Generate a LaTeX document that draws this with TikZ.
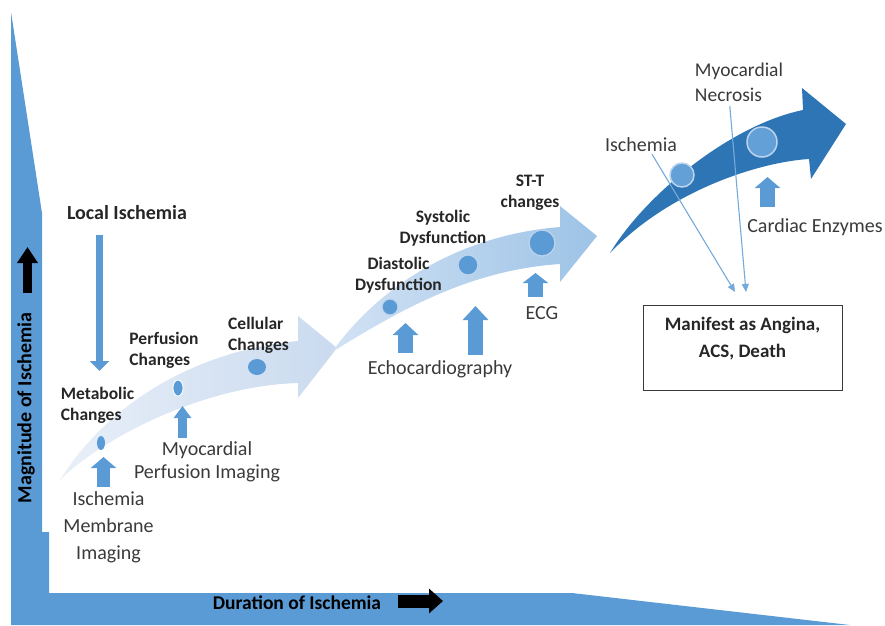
\documentclass[tikz,border=0pt]{standalone}
\usepackage{fontspec}
\setmainfont{Carlito}
\usetikzlibrary{arrows.meta,shapes.geometric,calc}

\definecolor{axisblue}{HTML}{5B9BD5}
\definecolor{dotblue}{HTML}{5B9BD5}
\definecolor{darkarrow}{HTML}{2E75B6}
\definecolor{midL}{HTML}{D2E2F4}
\definecolor{midR}{HTML}{9DC3E6}
\definecolor{paleL}{HTML}{E8EFF8}
\definecolor{paleR}{HTML}{CADAEF}
\definecolor{ringlight}{HTML}{BCD4EE}
\definecolor{labeltxt}{HTML}{262626}
\definecolor{desctxt}{HTML}{3A3A3A}

\tikzset{
  stagelbl/.style={font=\bfseries\fontsize{17.5}{21}\selectfont, text=labeltxt, inner sep=0pt},
  desclbl/.style={font=\fontsize{20}{24}\selectfont, text=desctxt, inner sep=0pt, align=center},
  dot/.style={ellipse, fill=dotblue, inner sep=0pt},
  bigdot/.style={circle, fill=dotblue, draw=ringlight, line width=1.2pt, inner sep=0pt},
  blockup/.style={draw=axisblue, line width=#1},
  thinlink/.style={draw=axisblue!85!white, line width=1.1pt, -{Triangle[width=7pt,length=8pt]}},
  axisarrow/.style={draw=black, line width=#1}
}

\begin{document}
\begin{tikzpicture}[x=1pt,y=-1pt]
\useasboundingbox (0,0) rectangle (885,625);

% axes band
\fill[axisblue] (11,12) -- (42,213) -- (42,532) -- (49,532) -- (49,593)
  -- (572,593) -- (850,625) -- (11,625) -- cycle;

% axis captions and black arrows
\node[rotate=90, font=\bfseries\fontsize{20}{24}\selectfont, text=black, inner sep=0pt] (mag) at (26,408) {Magnitude of Ischemia};
\coordinate (magA) at (27.5,293);
\coordinate (magB) at (27.5,247);
\draw[axisarrow=9pt, -{Triangle[width=20pt,length=16pt]}] (magA) -- (magB);

\node[font=\bfseries\fontsize{19.5}{24}\selectfont, text=black, inner sep=0pt] (dur) at (297,603) {Duration of Ischemia};
\coordinate (durA) at (398,601);
\coordinate (durB) at (443,601);
\draw[axisarrow=13pt, -{Triangle[width=24pt,length=14pt]}] (durA) -- (durB);

% stage 1 swoosh (pale)
\shade[left color=paleL, right color=paleR]
  (60,480) .. controls (110,400) and (200,350) .. (298,341)
  -- (298,316) -- (337,348) -- (298,398) -- (298,383)
  .. controls (200,386) and (100,440) .. (60,480) -- cycle;

% stage 2 swoosh (medium)
\shade[left color=midL, right color=midR]
  (332,352) .. controls (380,285) and (460,235) .. (560,227)
  -- (560,206) -- (597,236) -- (560,282) -- (560,264)
  .. controls (470,270) and (400,310) .. (332,352) -- cycle;

% stage 3 swoosh (dark)
\fill[darkarrow]
  (610,253) .. controls (645,195) and (730,125) .. (803,110)
  -- (802,88) -- (846,124) -- (811,179) -- (809,159)
  .. controls (760,162) and (670,190) .. (610,253) -- cycle;

% markers on the swooshes
\node[dot, minimum width=8pt, minimum height=14pt] (m1) at (101,443) {};
\node[dot, draw=white, line width=0.8pt, minimum width=10pt, minimum height=16pt] (m2) at (178,388) {};
\node[dot, minimum width=18pt, minimum height=16pt] (m3) at (257,367) {};
\node[bigdot, minimum size=16pt] (m4) at (390,307) {};
\node[bigdot, minimum size=20pt] (m5) at (468,265) {};
\node[bigdot, minimum size=26pt] (m6) at (542,243) {};
\node[bigdot, minimum size=24pt, fill=dotblue!95!white, line width=1.5pt] (m7) at (682,175) {};
\node[bigdot, minimum size=30pt, fill=dotblue!95!white, line width=1.5pt] (m8) at (762,142) {};

% stage labels
\node[stagelbl] (local) at (127,213) {\fontsize{20}{24}\selectfont Local Ischemia};
\node[stagelbl, align=left] (metab) at (97.5,405.5) {Metabolic\\Changes};
\node[stagelbl, align=left] (perf) at (164,350) {Perfusion\\Changes};
\node[stagelbl, align=left] (cell) at (258.5,335) {Cellular\\Changes};
\node[stagelbl, align=center] (dias) at (398.5,275.5) {Diastolic\\Dysfunction};
\node[stagelbl, align=center] (syst) at (443,228.5) {Systolic\\Dysfunction};
\node[stagelbl, align=center] (stt) at (530,193) {ST-T\\changes};

% modality labels
\node[desclbl, font=\fontsize{20}{27}\selectfont] (memb) at (108.5,527) {Ischemia\\Membrane\\Imaging};
\node[desclbl, font=\fontsize{20}{23}\selectfont] (mpi) at (207,461.5) {Myocardial\\Perfusion Imaging};
\node[desclbl] (echo) at (440,369) {Echocardiography};
\node[desclbl] (ecg) at (542,313) {ECG};
\node[desclbl] (enz) at (815,227) {Cardiac Enzymes};
\node[desclbl] (iscR) at (641,145) {Ischemia};
\node[desclbl, font=\fontsize{19.5}{25}\selectfont, align=left] (necro) at (739,82.5) {Myocardial\\Necrosis};

% outcome box
\node[draw=desctxt, line width=1pt, minimum width=199pt, minimum height=85pt, inner sep=0pt] (box) at (742.5,347.5) {};
\node[stagelbl, font=\bfseries\fontsize{19}{27}\selectfont, align=center] (boxtxt) at (742.5,338.5) {Manifest as Angina,\\ACS, Death};

% block arrows
\coordinate (locA) at (99.5,235);
\coordinate (locB) at (99.5,371);
\draw[blockup=7pt, -{Triangle[width=19pt,length=10pt]}] (locA) -- (locB);

\coordinate (membA) at (103.5,487);
\coordinate (membB) at (103.5,457);
\draw[blockup=13pt, -{Triangle[width=25pt,length=11pt]}] (membA) -- (membB);

\coordinate (mpiA) at (182.5,438);
\coordinate (mpiB) at (182.5,406);
\draw[blockup=9pt, -{Triangle[width=17pt,length=12pt]}] (mpiA) -- (mpiB);

\coordinate (echoA) at (405.5,353);
\coordinate (echoB) at (405.5,323);
\draw[blockup=15pt, -{Triangle[width=25pt,length=12pt]}] (echoA) -- (echoB);

\coordinate (echoC) at (475.5,355);
\coordinate (echoD) at (475.5,306);
\draw[blockup=15pt, -{Triangle[width=25pt,length=14pt]}] (echoC) -- (echoD);

\coordinate (ecgA) at (535.5,297);
\coordinate (ecgB) at (535.5,273);
\draw[blockup=15pt, -{Triangle[width=25pt,length=10pt]}] (ecgA) -- (ecgB);

\coordinate (enzA) at (767.5,207);
\coordinate (enzB) at (767.5,177);
\draw[blockup=15pt, -{Triangle[width=25pt,length=11pt]}] (enzA) -- (enzB);

% links to the outcome
\coordinate (iscStart) at ($(iscR.south)+(11,2)$);
\coordinate (necStart) at ($(necro.south west)+(35,4)$);
\coordinate (iscEnd) at (735,292);
\coordinate (necEnd) at (746,292);
\draw[thinlink] (iscStart) -- (iscEnd);
\draw[thinlink] (necStart) -- (necEnd);
\end{tikzpicture}
\end{document}
